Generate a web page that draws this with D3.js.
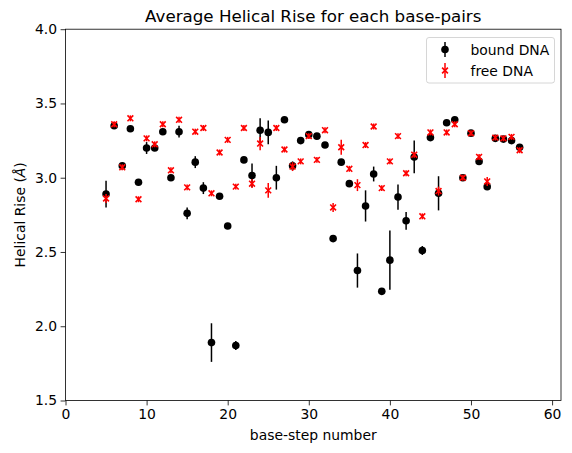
<!DOCTYPE html>
<html>
<head>
<meta charset="utf-8">
<script src="https://cdn.jsdelivr.net/npm/d3@7/dist/d3.min.js"></script>
<style>
body { margin: 0; background: #fff; }
svg { font-family: "DejaVu Sans", sans-serif; }
</style>
</head>
<body>
<svg id="chart" width="572" height="453"></svg>
<script>
const steps = [5,6,7,8,9,10,11,12,13,14,15,16,17,18,19,20,21,22,23,24,25,26,27,28,29,30,31,32,33,34,35,36,37,38,39,40,41,42,43,44,45,46,47,48,49,50,51,52,53,54,55,56];
const boundMean = [2.89,3.35,3.08,3.33,2.97,3.20,3.20,3.31,3.00,3.31,2.76,3.105,2.93,1.89,2.875,2.675,1.87,3.12,3.015,3.32,3.305,3.00,3.39,3.08,3.25,3.29,3.28,3.22,2.59,3.105,2.96,2.375,2.81,3.025,2.235,2.445,2.87,2.71,3.14,2.51,3.27,2.895,3.37,3.39,3.00,3.30,3.11,2.94,3.265,3.26,3.25,3.205];
const boundErr  = [0.09,0.02,0.02,0.01,0.01,0.04,0.02,0.02,0.01,0.04,0.04,0.04,0.04,0.13,0.01,0.01,0.03,0.01,0.08,0.08,0.08,0.08,0.01,0.03,0.01,0.01,0.01,0.01,0.01,0.01,0.01,0.115,0.105,0.05,0.01,0.20,0.085,0.06,0.11,0.03,0.01,0.115,0.01,0.01,0.01,0.01,0.02,0.02,0.01,0.01,0.01,0.01];
const freeMean  = [2.86,3.36,3.07,3.40,2.855,3.265,3.225,3.36,3.05,3.39,2.935,3.31,3.335,2.895,3.17,3.255,2.94,3.335,2.96,3.23,2.915,3.335,3.19,3.075,3.11,3.28,3.12,3.32,2.80,3.205,3.06,2.95,3.22,3.345,2.93,3.11,3.28,3.03,3.155,2.74,3.305,2.91,3.305,3.36,3.00,3.30,3.14,2.975,3.27,3.265,3.275,3.185];
const freeErr   = [0.03,0.02,0.02,0.02,0.02,0.02,0.02,0.02,0.02,0.02,0.02,0.02,0.02,0.02,0.02,0.02,0.02,0.02,0.03,0.045,0.05,0.02,0.02,0.03,0.02,0.02,0.02,0.02,0.03,0.05,0.02,0.04,0.02,0.02,0.02,0.02,0.02,0.02,0.02,0.02,0.02,0.03,0.02,0.02,0.02,0.02,0.02,0.03,0.02,0.02,0.02,0.02];
const xTicks = [0,10,20,30,40,50,60];
const yTicks = [1.5,2.0,2.5,3.0,3.5,4.0];
const xDomain = [0, 61.1];
const yDomain = [1.5, 4.0];

const svg = d3.select("#chart");
const m = {left: 65.5, top: 29.2, right: 561, bottom: 400.5};
const x = d3.scaleLinear().domain(xDomain).range([m.left, m.right]);
const y = d3.scaleLinear().domain(yDomain).range([m.bottom, m.top]);

const bound = steps.map((s,i)=>({x:s, y:boundMean[i], e:boundErr[i]}));
const free = steps.map((s,i)=>({x:s, y:freeMean[i], e:freeErr[i]}));
const R = 3.8, xm = 2.9;

// bound DNA error bars and markers
svg.append("g").selectAll("line").data(bound).join("line")
  .attr("x1", d=>x(d.x)).attr("x2", d=>x(d.x))
  .attr("y1", d=>y(d.y-d.e)).attr("y2", d=>y(d.y+d.e))
  .attr("stroke", "#000").attr("stroke-width", 1.5);
svg.append("g").selectAll("circle").data(bound).join("circle")
  .attr("cx", d=>x(d.x)).attr("cy", d=>y(d.y)).attr("r", R)
  .attr("fill", "#000");

// free DNA error bars and markers
svg.append("g").selectAll("line").data(free).join("line")
  .attr("x1", d=>x(d.x)).attr("x2", d=>x(d.x))
  .attr("y1", d=>y(d.y-d.e)).attr("y2", d=>y(d.y+d.e))
  .attr("stroke", "red").attr("stroke-width", 1.5);
svg.append("g").selectAll("path").data(free).join("path")
  .attr("d", d=>{const cx=x(d.x), cy=y(d.y);
    return `M${cx-xm},${cy-xm}L${cx+xm},${cy+xm}M${cx-xm},${cy+xm}L${cx+xm},${cy-xm}`;})
  .attr("stroke", "red").attr("stroke-width", 1.6).attr("fill","none");

// axes
const xAxis = d3.axisBottom(x).tickValues(xTicks).tickFormat(d3.format("d")).tickSize(4.9).tickPadding(3.5);
const yAxis = d3.axisLeft(y).tickValues(yTicks).tickFormat(d3.format(".1f")).tickSize(4.9).tickPadding(3.5);
const gx = svg.append("g").attr("transform", `translate(0,${m.bottom})`).call(xAxis);
const gy = svg.append("g").attr("transform", `translate(${m.left},0)`).call(yAxis);
[gx, gy].forEach(g=>{
  g.select(".domain").remove();
  g.selectAll(".tick line").attr("stroke","#000").attr("stroke-width",0.8);
  g.selectAll(".tick text").attr("font-size","13.9px").attr("fill","#000").attr("font-family","DejaVu Sans");
});

// frame
svg.append("rect").attr("x", m.left).attr("y", m.top)
  .attr("width", m.right-m.left).attr("height", m.bottom-m.top)
  .attr("fill","none").attr("stroke","#000").attr("stroke-width",0.8);

// title and labels
svg.append("text").attr("x", (m.left+m.right)/2).attr("y", 22)
  .attr("text-anchor","middle").attr("font-size","16.7px").text("Average Helical Rise for each base-pairs");
svg.append("text").attr("x", (m.left+m.right)/2).attr("y", 440)
  .attr("text-anchor","middle").attr("font-size","13.9px").text("base-step number");
const yl = svg.append("text").attr("transform", `translate(25,${(m.top+m.bottom)/2}) rotate(-90)`)
  .attr("text-anchor","middle").attr("font-size","13.9px");
yl.append("tspan").text("Helical Rise (");
yl.append("tspan").attr("font-style","italic").text("Å");
yl.append("tspan").text(")");

// legend
const lg = svg.append("g");
lg.append("rect").attr("x", 426.5).attr("y", 37.5).attr("width", 128).attr("height", 45.5)
  .attr("rx", 2.5).attr("fill","#fff").attr("fill-opacity",0.8).attr("stroke","#ccc").attr("stroke-width",0.8);
const lx = 445;
lg.append("line").attr("x1", lx).attr("x2", lx).attr("y1", 42).attr("y2", 57).attr("stroke","#000").attr("stroke-width",1.5);
lg.append("circle").attr("cx", lx).attr("cy", 49.5).attr("r", R).attr("fill","#000");
lg.append("line").attr("x1", lx).attr("x2", lx).attr("y1", 63).attr("y2", 78).attr("stroke","red").attr("stroke-width",1.5);
lg.append("path").attr("d", `M${lx-xm},${70.5-xm}L${lx+xm},${70.5+xm}M${lx-xm},${70.5+xm}L${lx+xm},${70.5-xm}`)
  .attr("stroke","red").attr("stroke-width",1.6);
lg.append("text").attr("x", 470.5).attr("y", 54.5).attr("font-size","13.9px").text("bound DNA");
lg.append("text").attr("x", 470.5).attr("y", 75.5).attr("font-size","13.9px").text("free DNA");
</script>
</body>
</html>
